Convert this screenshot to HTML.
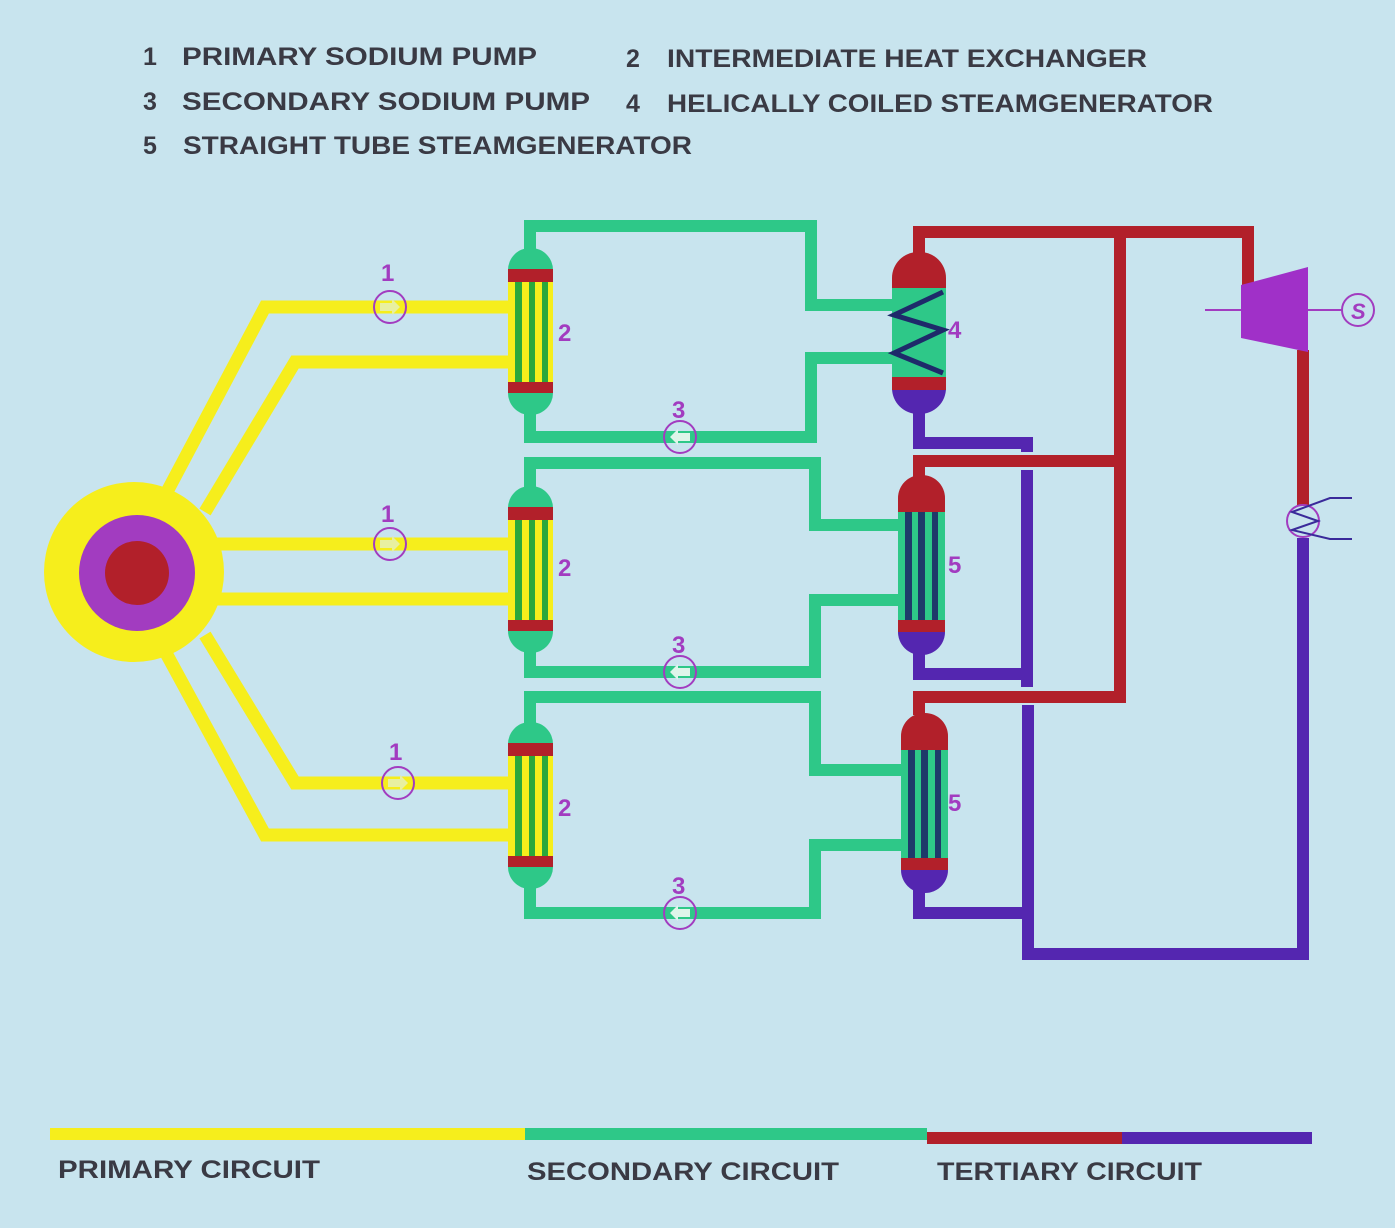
<!DOCTYPE html>
<html><head><meta charset="utf-8"><style>
html,body{margin:0;padding:0;background:#c8e4ee;}
svg{display:block;}
text{font-family:"Liberation Sans",sans-serif;font-weight:bold;}
</style></head><body>
<svg width="1395" height="1228" viewBox="0 0 1395 1228" xmlns="http://www.w3.org/2000/svg">
<rect width="1395" height="1228" fill="#c8e4ee"/>
<g fill="#3a3a44" font-size="25">
<text x="143" y="65">1</text><text x="182" y="65" textLength="355" lengthAdjust="spacingAndGlyphs">PRIMARY SODIUM PUMP</text>
<text x="626" y="67">2</text><text x="667" y="67" textLength="480" lengthAdjust="spacingAndGlyphs">INTERMEDIATE HEAT EXCHANGER</text>
<text x="143" y="110">3</text><text x="182" y="110" textLength="408" lengthAdjust="spacingAndGlyphs">SECONDARY SODIUM PUMP</text>
<text x="626" y="112">4</text><text x="667" y="112" textLength="546" lengthAdjust="spacingAndGlyphs">HELICALLY COILED STEAMGENERATOR</text>
<text x="143" y="154">5</text><text x="183" y="154" textLength="509" lengthAdjust="spacingAndGlyphs">STRAIGHT TUBE STEAMGENERATOR</text>
</g>
<g stroke="#f6ee1c" stroke-width="13" fill="none" stroke-linejoin="miter">
<polyline points="160,505 265,307 512,307"/>
<polyline points="205,512 295,362 512,362"/>
<polyline points="195,544 512,544"/>
<polyline points="195,599 512,599"/>
<polyline points="205,635 295,783 512,783"/>
<polyline points="160,642 265,835 512,835"/>
</g>
<circle cx="134" cy="572" r="90" fill="#f6ee1c"/>
<circle cx="137" cy="573" r="58" fill="#a23cc0"/>
<circle cx="137" cy="573" r="32" fill="#b2202a"/>
<g stroke="#2ec888" stroke-width="12" fill="none">
<polyline points="530,250 530,226 811,226 811,305 895,305"/>
<polyline points="895,358 811,358 811,437 530,437 530,410"/>
<polyline points="530,490 530,463 815,463 815,525 900,525"/>
<polyline points="900,600 815,600 815,672 530,672 530,645"/>
<polyline points="530,725 530,697 815,697 815,770 902,770"/>
<polyline points="902,845 815,845 815,913 530,913 530,885"/>
</g>
<g stroke="#b2202a" stroke-width="12" fill="none">
<polyline points="919,255 919,232 1248,232 1248,285"/>
<polyline points="1120,232 1120,697 919,697 919,715"/>
<polyline points="919,478 919,461 1120,461"/>
<polyline points="1303,350 1303,506"/>
</g>
<g stroke="#5426b0" stroke-width="12" fill="none">
<polyline points="919,410 919,443 1027,443 1027,452"/>
<polyline points="1027,470 1027,687"/>
<polyline points="919,650 919,674 1027,674"/>
<polyline points="919,888 919,913 1028,913"/>
<polyline points="1028,705 1028,954 1303,954 1303,538"/>
</g>
<g id="hx">
<rect x="508" y="248" width="45" height="60" rx="22" fill="#2ec888"/>
<rect x="508" y="355" width="45" height="60" rx="22" fill="#2ec888"/>
<rect x="508" y="269" width="45" height="124" fill="#b2202a"/>
<rect x="508" y="282" width="45" height="100" fill="#f6ee1c"/>
<rect x="515" y="282" width="7" height="100" fill="#2aa83c"/>
<rect x="529" y="282" width="6" height="100" fill="#2aa83c"/>
<rect x="542" y="282" width="6" height="100" fill="#2aa83c"/>
</g>
<use href="#hx" y="238"/>
<use href="#hx" y="474"/>
<rect x="892" y="252" width="54" height="70" rx="26" fill="#b2202a"/>
<rect x="892" y="360" width="54" height="54" rx="26" fill="#5426b0"/>
<rect x="892" y="288" width="54" height="89" fill="#2ec888"/>
<rect x="892" y="377" width="54" height="13" fill="#b2202a"/>
<polyline points="943,292 894,315 943,330 894,353 943,373" stroke="#1e2a6a" stroke-width="5" fill="none"/>
<g id="sg5">
<rect x="898" y="475" width="47" height="60" rx="23" fill="#b2202a"/>
<rect x="898" y="600" width="47" height="55" rx="23" fill="#5426b0"/>
<rect x="898" y="512" width="47" height="120" fill="#b2202a"/>
<rect x="898" y="512" width="47" height="108" fill="#2ec888"/>
<rect x="905" y="512" width="7" height="108" fill="#1e3a6a"/>
<rect x="918" y="512" width="7" height="108" fill="#1e3a6a"/>
<rect x="932" y="512" width="6" height="108" fill="#1e3a6a"/>
</g>
<use href="#sg5" x="3" y="238"/>
<line x1="1205" y1="310" x2="1342" y2="310" stroke="#a23cc0" stroke-width="2"/>
<polygon points="1241,285 1308,267 1308,352 1241,338" fill="#a030c8"/>
<circle cx="1358" cy="310" r="16" fill="none" stroke="#a23cc0" stroke-width="2"/>
<text x="1351" y="319" font-size="22" font-weight="normal" fill="#a23cc0" font-style="italic">S</text>
<circle cx="1303" cy="521" r="16" fill="#c8e4ee" stroke="#a23cc0" stroke-width="2"/>
<polyline points="1352,498 1330,498 1292,512 1318,521 1292,530 1330,539 1352,539" fill="none" stroke="#3a2a9a" stroke-width="2"/>
<g fill="none" stroke="#a23cc0" stroke-width="2">
<circle cx="390" cy="307" r="16"/><circle cx="390" cy="544" r="16"/><circle cx="398" cy="783" r="16"/>
<circle cx="680" cy="437" r="16"/><circle cx="680" cy="672" r="16"/><circle cx="680" cy="913" r="16"/>
</g>
<g fill="#e8f0a0">
<polygon points="380,303 392,303 392,299 400,307 392,315 392,311 380,311"/>
<polygon points="380,540 392,540 392,536 400,544 392,552 392,548 380,548"/>
<polygon points="388,779 400,779 400,775 408,783 400,791 400,787 388,787"/>
</g>
<g fill="#dff5ea">
<polygon points="690,433 678,433 678,429 670,437 678,445 678,441 690,441"/>
<polygon points="690,668 678,668 678,664 670,672 678,680 678,676 690,676"/>
<polygon points="690,909 678,909 678,905 670,913 678,921 678,917 690,917"/>
</g>
<g fill="#a23cc0" font-size="24">
<text x="381" y="281">1</text><text x="381" y="522">1</text><text x="389" y="760">1</text>
<text x="672" y="418">3</text><text x="672" y="653">3</text><text x="672" y="894">3</text>
<text x="558" y="341">2</text><text x="558" y="576">2</text><text x="558" y="816">2</text>
<text x="948" y="338">4</text><text x="948" y="573">5</text><text x="948" y="811">5</text>
</g>
<rect x="50" y="1128" width="475" height="12" fill="#f6ee1c"/>
<rect x="525" y="1128" width="402" height="12" fill="#2ec888"/>
<rect x="927" y="1132" width="195" height="12" fill="#b2202a"/>
<rect x="1122" y="1132" width="190" height="12" fill="#5426b0"/>
<g fill="#3a3a44" font-size="25">
<text x="58" y="1178" textLength="262" lengthAdjust="spacingAndGlyphs">PRIMARY CIRCUIT</text>
<text x="527" y="1180" textLength="312" lengthAdjust="spacingAndGlyphs">SECONDARY CIRCUIT</text>
<text x="937" y="1180" textLength="265" lengthAdjust="spacingAndGlyphs">TERTIARY CIRCUIT</text>
</g>
</svg>
</body></html>
